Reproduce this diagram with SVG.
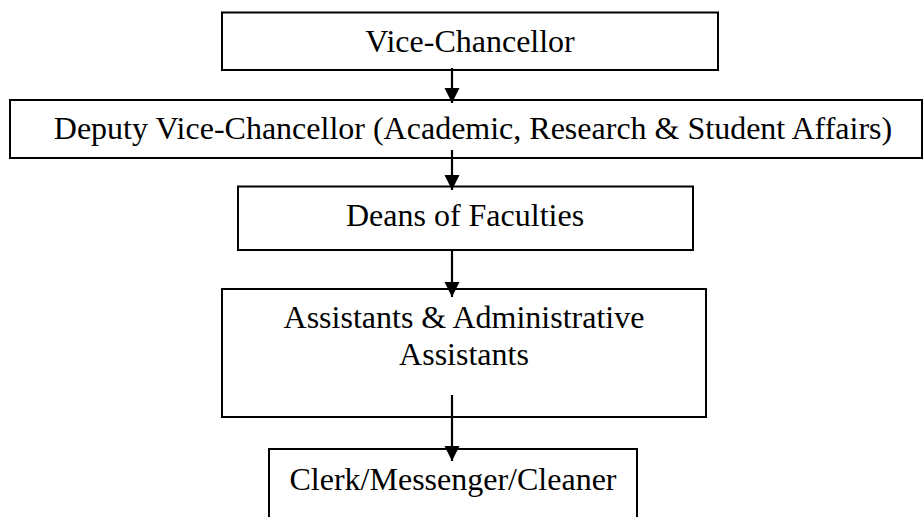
<svg xmlns="http://www.w3.org/2000/svg" width="924" height="517" viewBox="0 0 924 517">
<style>
.box{fill:#fff;stroke:#000;stroke-width:2}
.t{font-family:"Liberation Serif","Times New Roman",serif;font-size:32px;fill:#000;text-anchor:middle}
.c{stroke:#000;stroke-width:2.2;fill:none}
</style>
<defs>
<marker id="ah" markerUnits="userSpaceOnUse" markerWidth="16" markerHeight="16" viewBox="0 0 16 16" refX="15" refY="8" orient="auto">
<path d="M0,0.5 L15,8 L0,15.5 Z" fill="#000"/>
</marker>
</defs>
<rect width="924" height="517" fill="#fff"/>
<g id="vc"><rect class="box" x="222" y="12.5" width="496" height="57.5"/><text class="t" x="470" y="52">Vice-Chancellor</text></g>
<g id="dvc"><rect class="box" x="10" y="100" width="912" height="58"/><text class="t" x="473" y="139">Deputy Vice-Chancellor (Academic, Research &amp; Student Affairs)</text></g>
<g id="deans"><rect class="box" x="238" y="186.5" width="455" height="63.5"/><text class="t" x="465" y="226">Deans of Faculties</text></g>
<g id="assistants"><rect class="box" x="222" y="289" width="484" height="128"/><text class="t" x="464" y="328">Assistants &amp; Administrative</text><text class="t" x="464" y="365">Assistants</text></g>
<g id="clerk"><rect class="box" x="269" y="449" width="368" height="90"/><text class="t" x="453" y="490">Clerk/Messenger/Cleaner</text></g>
<g id="connectors">
<line class="c" x1="452" y1="68" x2="452" y2="103" marker-end="url(#ah)"/>
<line class="c" x1="452" y1="150" x2="452" y2="190" marker-end="url(#ah)"/>
<line class="c" x1="452" y1="250" x2="452" y2="297" marker-end="url(#ah)"/>
<line class="c" x1="452" y1="395" x2="452" y2="461" marker-end="url(#ah)"/>
</g>
</svg>
